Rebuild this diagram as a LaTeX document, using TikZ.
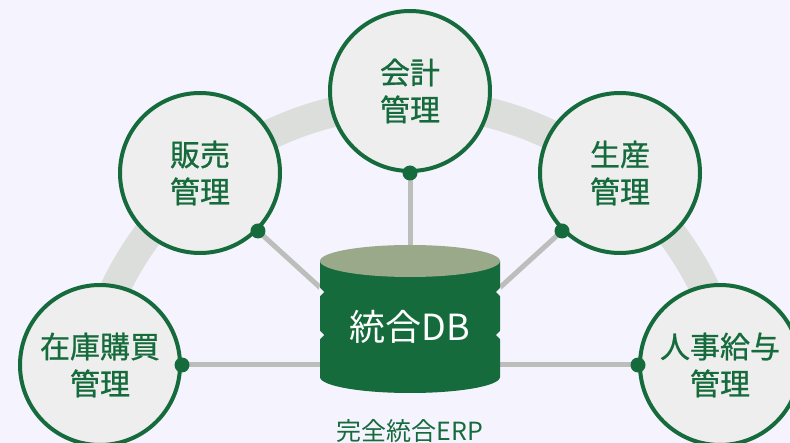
\documentclass[tikz,border=0pt]{standalone}
\usepackage{fontspec}
\newfontfamily\jp[FakeBold=0.8]{Noto Sans CJK JP}
\newfontfamily\jpr{Noto Sans CJK JP}
\definecolor{bg}{HTML}{F5F3FD}
\definecolor{ring}{HTML}{DCDEDC}
\definecolor{gline}{HTML}{BCBEBC}
\definecolor{dg}{HTML}{166B3C}
\definecolor{cfill}{HTML}{EEEEEE}
\definecolor{olive}{HTML}{9AA98A}
\begin{document}
\begin{tikzpicture}[x=1pt,y=-1pt,
  mod/.style={circle, draw=dg, line width=4, fill=cfill, minimum size=160, inner sep=0, align=center, text=dg, font=\jp\fontsize{30}{37}\selectfont},
  dot/.style={circle, fill=dg, minimum size=15, inner sep=0},
  link/.style={draw=gline, line width=5}]
\fill[bg] (0,0) rectangle (790,443);
\useasboundingbox (0,0) rectangle (790,443);
% ring
\draw[ring, line width=30] (410,430) ++(195:327) arc (195:345:327);
% module circles
\node[mod] (kaikei) at (410,91) {会計\\管理};
\node[mod] (hanbai) at (200,173) {販売\\管理};
\node[mod] (seisan) at (620,173) {生産\\管理};
\node[mod] (zaiko) at (100,365) {在庫購買\\管理};
\node[mod] (jinji) at (720,365) {人事給与\\管理};
% connection points on DB
\coordinate (dbT) at (410,250);
\coordinate (dbL) at (325,292);
\coordinate (dbR) at (495,292);
\coordinate (dbZ) at (325,365);
\coordinate (dbJ) at (495,365);
\draw[link] (kaikei.south) -- (dbT);
\draw[link] (hanbai.-45) -- (dbL);
\draw[link] (seisan.-135) -- (dbR);
\draw[link] (zaiko.east) -- (dbZ);
\draw[link] (jinji.west) -- (dbJ);
% dots
\node[dot] (dK) at (kaikei.south) {};
\node[dot] (dH) at (hanbai.-45) {};
\node[dot] (dS) at (seisan.-135) {};
\node[dot] (dZ) at (zaiko.east) {};
\node[dot] (dJ) at (jinji.west) {};
% database cylinder
\fill[dg] (320,261) -- (320,377) arc (180:0:90 and 16) -- (500,261) -- cycle;
\fill[olive] (410,261) ellipse (90 and 16);
\fill[bg] (319,287) -- (324,292) -- (319,297) -- cycle;
\fill[bg] (319,330) -- (324,335) -- (319,340) -- cycle;
\fill[bg] (501,287) -- (496,292) -- (501,297) -- cycle;
\fill[bg] (501,330) -- (496,335) -- (501,340) -- cycle;
\node[text=white, font=\jpr\fontsize{36}{40}\selectfont] (db) at (410,327) {統合DB};
\node[text=dg, font=\jpr\fontsize{25}{30}\selectfont] (erp) at (410,431) {完全統合ERP};
\end{tikzpicture}
\end{document}
